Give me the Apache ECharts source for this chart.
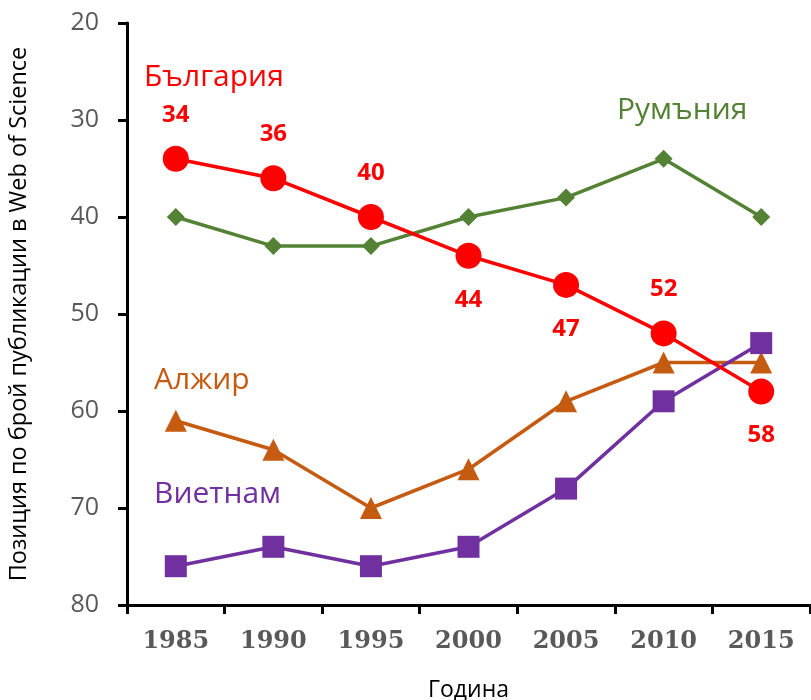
<!DOCTYPE html>
<html>
<head>
<meta charset="utf-8">
<script src="https://cdn.jsdelivr.net/npm/echarts@6/dist/echarts.min.js"></script>
<style>
  html, body { margin: 0; padding: 0; background: #fff; }
  #main { width: 811px; height: 700px; }
</style>
</head>
<body>
<div id="main"></div>
<script>
// данни
var years = ['1985', '1990', '1995', '2000', '2005', '2010', '2015'];
var bulgaria = [34, 36, 40, 44, 47, 52, 58];
var romania = [40, 43, 43, 40, 38, 34, 40];
var algeria = [61, 64, 70, 66, 59, 55, 55];
var vietnam = [76, 74, 76, 74, 68, 59, 53];
var yTicks = [20, 30, 40, 50, 60, 70, 80];
// където стоят етикетите на България
var bgLabelPos = ['top', 'top', 'top', 'bottom', 'bottom', 'top', 'bottom'];

var chart = echarts.init(document.getElementById('main'));

var bgData = bulgaria.map(function (v, i) {
  return { value: v, label: { position: bgLabelPos[i] } };
});

chart.setOption({
  animation: false,
  grid: { left: 127, right: 1, top: 23, bottom: 95, outerBoundsMode: 'none' },
  xAxis: {
    type: 'category',
    data: years,
    boundaryGap: true,
    name: 'Година',
    nameLocation: 'middle',
    nameGap: 74,
    nameTextStyle: { fontFamily: 'Open Sans', fontSize: 23, color: '#000' },
    axisLine: { lineStyle: { color: '#000', width: 3 } },
    axisTick: { show: true, length: 9, lineStyle: { color: '#000', width: 3 } },
    axisLabel: {
      fontFamily: 'DejaVu Serif', fontWeight: 'bold', fontSize: 24,
      color: '#595959', margin: 25
    },
    splitLine: { show: false }
  },
  yAxis: {
    type: 'value',
    inverse: true,
    min: yTicks[0],
    max: yTicks[yTicks.length - 1],
    interval: 10,
    name: 'Позиция по брой публикации в Web of Science',
    nameLocation: 'middle',
    nameGap: 96,
    nameRotate: 90,
    nameTextStyle: { fontFamily: 'Open Sans', fontSize: 23.5, color: '#000' },
    axisLine: { show: true, lineStyle: { color: '#000', width: 3 } },
    axisTick: { show: true, length: 9, lineStyle: { color: '#000', width: 3 } },
    axisLabel: { fontFamily: 'Open Sans', fontSize: 25, color: '#595959', margin: 28 },
    splitLine: { show: false }
  },
  series: [
    {
      name: 'Румъния',
      type: 'line',
      data: romania,
      symbol: 'diamond',
      symbolSize: 18,
      lineStyle: { color: '#548235', width: 3.5 },
      itemStyle: { color: '#548235' },
      z: 2
    },
    {
      name: 'Алжир',
      type: 'line',
      data: algeria,
      symbol: 'triangle',
      symbolSize: 22,
      lineStyle: { color: '#C55A11', width: 3.5 },
      itemStyle: { color: '#C55A11' },
      z: 3
    },
    {
      name: 'Виетнам',
      type: 'line',
      data: vietnam,
      symbol: 'rect',
      symbolSize: 22,
      lineStyle: { color: '#7030A0', width: 3.5 },
      itemStyle: { color: '#7030A0' },
      z: 4
    },
    {
      name: 'България',
      type: 'line',
      data: bgData,
      symbol: 'circle',
      symbolSize: 26,
      lineStyle: { color: '#FF0000', width: 3.5 },
      itemStyle: { color: '#FF0000' },
      label: {
        show: true,
        distance: 19,
        fontFamily: 'Open Sans',
        fontWeight: 'bold',
        fontSize: 24,
        color: '#FF0000'
      },
      z: 5
    }
  ],
  graphic: [
    { type: 'text', left: 144, top: 62, style: { text: 'България', fontFamily: 'Open Sans', fontSize: 30, fill: '#FF0000' } },
    { type: 'text', left: 617, top: 95, style: { text: 'Румъния', fontFamily: 'Open Sans', fontSize: 30, fill: '#548235' } },
    { type: 'text', left: 154, top: 365, style: { text: 'Алжир', fontFamily: 'Open Sans', fontSize: 30, fill: '#C55A11' } },
    { type: 'text', left: 154, top: 479, style: { text: 'Виетнам', fontFamily: 'Open Sans', fontSize: 30, fill: '#7030A0' } }
  ]
});
</script>
</body>
</html>
